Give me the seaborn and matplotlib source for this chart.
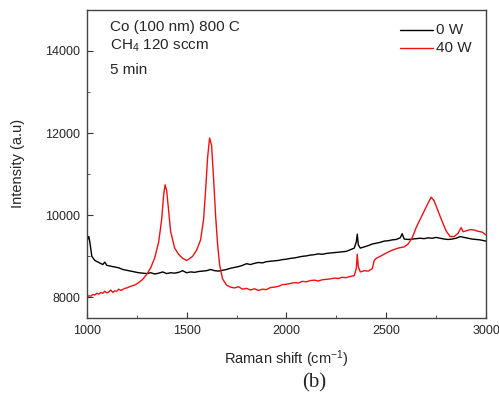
import numpy as np
import pandas as pd
import matplotlib
matplotlib.use("Agg")
import matplotlib.pyplot as plt
import seaborn as sns
from matplotlib.ticker import MultipleLocator

# ---- data ----
x_40w = [1000, 1010, 1020, 1030, 1040, 1050, 1060, 1070, 1080, 1090, 1100, 1110, 1120, 1130,
         1140, 1150, 1160, 1170, 1180, 1190, 1200, 1220, 1240, 1260, 1280, 1300, 1320, 1340,
         1360, 1375, 1385, 1392, 1400, 1410, 1420, 1440, 1460, 1480, 1500, 1510, 1530, 1550,
         1570, 1585, 1595, 1605, 1615, 1625, 1635, 1645, 1655, 1665, 1680, 1700, 1720, 1740,
         1760, 1780, 1800, 1820, 1840, 1860, 1880, 1900, 1920, 1940, 1960, 1980, 2000, 2020,
         2040, 2060, 2080, 2100, 2120, 2140, 2160, 2180, 2200, 2220, 2240, 2260, 2280, 2300,
         2320, 2340, 2350, 2355, 2360, 2370, 2390, 2410, 2430, 2440, 2450, 2470, 2500, 2530,
         2560, 2590, 2610, 2630, 2650, 2670, 2690, 2710, 2725, 2740, 2760, 2780, 2800, 2820,
         2840, 2860, 2875, 2885, 2900, 2920, 2940, 2960, 2980, 3000]
y_40w = [8000, 8040, 8030, 8070, 8060, 8100, 8080, 8120, 8100, 8150, 8110, 8130, 8180, 8120,
         8160, 8150, 8200, 8170, 8190, 8220, 8230, 8270, 8300, 8360, 8440, 8560, 8720, 8960,
         9350, 9900, 10500, 10740, 10600, 10100, 9600, 9200, 9050, 8950, 8900, 8930, 9000, 9150,
         9400, 9900, 10600, 11400, 11880, 11700, 10900, 10000, 9300, 8800, 8450, 8300, 8250, 8230,
         8260, 8200, 8220, 8180, 8210, 8170, 8200, 8190, 8240, 8250, 8270, 8310, 8320, 8340,
         8360, 8350, 8390, 8380, 8410, 8420, 8400, 8430, 8440, 8450, 8470, 8460, 8490, 8480,
         8510, 8530, 8700, 9050, 8750, 8620, 8650, 8640, 8700, 8900, 8950, 9000, 9080, 9150,
         9200, 9230, 9300, 9450, 9700, 9900, 10100, 10300, 10440, 10350, 10100, 9850, 9620, 9480,
         9480, 9560, 9700, 9600, 9620, 9650, 9640, 9610, 9590, 9520]

x_0w = [1000, 1005, 1010, 1015, 1025, 1040, 1060, 1080, 1090, 1100, 1120, 1140, 1160, 1180,
        1200, 1220, 1240, 1260, 1280, 1300, 1320, 1340, 1360, 1380, 1400, 1420, 1440, 1460,
        1480, 1500, 1520, 1540, 1560, 1580, 1600, 1620, 1640, 1660, 1680, 1700, 1720, 1740,
        1760, 1780, 1800, 1820, 1840, 1860, 1880, 1900, 1920, 1940, 1960, 1980, 2000, 2020,
        2040, 2060, 2080, 2100, 2120, 2140, 2160, 2180, 2200, 2220, 2240, 2260, 2280, 2300,
        2320, 2340, 2350, 2355, 2360, 2370, 2390, 2410, 2430, 2450, 2470, 2490, 2510, 2530,
        2550, 2570, 2580, 2590, 2610, 2630, 2650, 2670, 2690, 2710, 2730, 2750, 2770, 2790,
        2810, 2830, 2850, 2870, 2890, 2910, 2930, 2950, 2970, 3000]
y_0w = [9300, 9450, 9480, 9350, 9000, 8900, 8850, 8800, 8860, 8780, 8760, 8740, 8720, 8680,
        8660, 8640, 8620, 8600, 8590, 8580, 8600, 8570, 8590, 8620, 8580, 8600, 8590, 8610,
        8650, 8600, 8620, 8610, 8630, 8640, 8650, 8680, 8650, 8640, 8660, 8680, 8710, 8730,
        8750, 8780, 8820, 8800, 8830, 8850, 8840, 8870, 8880, 8890, 8900, 8920, 8930, 8950,
        8960, 8980, 9000, 9010, 9030, 9040, 9060, 9050, 9070, 9080, 9090, 9100, 9110, 9120,
        9160, 9200, 9350, 9540, 9280, 9200, 9230, 9260, 9300, 9320, 9340, 9370, 9380, 9400,
        9410, 9450, 9550, 9420, 9410, 9420, 9430, 9440, 9430, 9450, 9440, 9460, 9440, 9420,
        9410, 9420, 9440, 9480, 9460, 9440, 9420, 9410, 9400, 9370]

labels = ["0 W", "40 W"]
colors = ["black", "#ee1111"]

df = pd.concat([
    pd.DataFrame({"shift": x_0w, "I": y_0w, "s": labels[0]}),
    pd.DataFrame({"shift": x_40w, "I": y_40w, "s": labels[1]}),
])

sns.set_style("ticks")
plt.rcParams["font.family"] = ["Liberation Sans", "DejaVu Sans"]
plt.rcParams["mathtext.default"] = "regular"

fig = plt.figure(figsize=(4.99, 3.93), dpi=100)
ax = fig.add_axes([0.174, 0.191, 0.800, 0.784])

sns.lineplot(data=df, x="shift", y="I", hue="s", palette=dict(zip(labels, colors)),
             linewidth=1.0, ax=ax, legend=False, estimator=None, sort=False)

ax.set_xlim(1000, 3000)
ax.set_ylim(7500, 15000)
ax.xaxis.set_major_locator(MultipleLocator(500))
ax.xaxis.set_minor_locator(MultipleLocator(250))
ax.yaxis.set_major_locator(MultipleLocator(2000))
ax.yaxis.set_minor_locator(MultipleLocator(1000))
ax.tick_params(which="both", direction="in", top=False, right=False, labelsize=9,
               color="#333333")
ax.tick_params(which="major", length=4, pad=5)
ax.tick_params(which="minor", length=2.5)
for sp in ax.spines.values():
    sp.set_color("#444444")
    sp.set_linewidth(1.0)

ax.set_xlabel("Raman shift (cm$^{-1}$)", fontsize=10.5, labelpad=8)
ax.set_ylabel("Intensity (a.u)", fontsize=10.5, labelpad=14)

ax.text(110 / 499, 1 - 27 / 393, "Co (100 nm) 800 C", transform=fig.transFigure,
        fontsize=11, va="center", ha="left")
ax.text(110 / 499, 1 - 46 / 393, "CH$_4$ 120 sccm", transform=fig.transFigure,
        fontsize=11, va="center", ha="left")
ax.text(110 / 499, 1 - 70 / 393, "5 min", transform=fig.transFigure,
        fontsize=11, va="center", ha="left")

for lab, col, yy in zip(labels, colors, [30, 48]):
    fig.add_artist(plt.Line2D([400 / 499, 433 / 499], [1 - yy / 393, 1 - yy / 393],
                              color=col, lw=1.0, transform=fig.transFigure))
    fig.text(436 / 499, 1 - yy / 393, lab, fontsize=11, va="center", ha="left")

fig.text(314 / 499, 1 - 383 / 393, "(b)", fontsize=15, va="center", ha="center",
         family=["Liberation Serif", "DejaVu Serif"])

fig.savefig("out.png", dpi=100)
